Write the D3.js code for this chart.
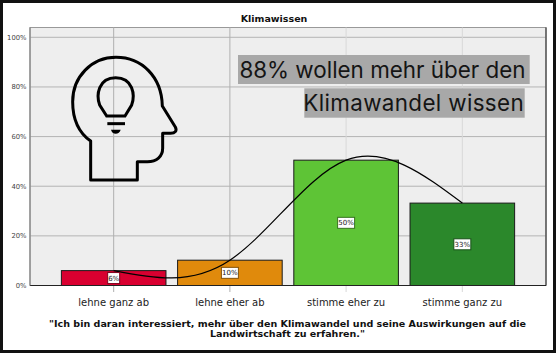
<!DOCTYPE html>
<html>
  <head>
    <meta charset="utf-8" />
    <style>
      html, body {
        margin: 0;
        padding: 0;
        background: white;
      }
      svg {
        display: block;
        font-family: "DejaVu Sans", sans-serif;
      }
    </style>
    <script src="https://cdn.jsdelivr.net/npm/d3@7"></script>
  </head>
  <body>
    <svg id="Chart"></svg>
    <script>
      const categories = ["lehne ganz ab", "lehne eher ab", "stimme eher zu", "stimme ganz zu"];
      const percentValues = [6, 10.2, 50.5, 33.2];
      const barLabels = ["6%", "10%", "50%", "33%"];
      const barColors = ["#d90030", "#e08a0c", "#5ec436", "#2b882b"];
      const yTicks = [0, 20, 40, 60, 80, 100];
      const calloutLines = ["88% wollen mehr über den", "Klimawandel wissen"];
      const captionLines = [
        "\"Ich bin daran interessiert, mehr über den Klimawandel und seine Auswirkungen auf die",
        "Landwirtschaft zu erfahren.\"",
      ];

      const width = 556;
      const height = 354;
      const margin = { top: 27.5, right: 10, bottom: 68.5, left: 30 };

      const svg = d3.select("#Chart").attr("width", width).attr("height", height);

      const xScale = d3
        .scaleBand()
        .domain(categories)
        .range([margin.left, width - margin.right])
        .paddingInner(0.1)
        .paddingOuter(0.27);

      const yScale = d3
        .scaleLinear()
        .domain([0, 100])
        .range([285.5, 37.3]);

      const xMid = (d) => xScale(d) + xScale.bandwidth() / 2;

      // outer frame
      svg.append("rect")
        .attr("x", 1.5).attr("y", 1.5)
        .attr("width", width - 3).attr("height", height - 4)
        .attr("fill", "white").attr("stroke", "#111").attr("stroke-width", 3);

      // plot background
      svg.append("rect")
        .attr("x", margin.left).attr("y", margin.top)
        .attr("width", width - margin.left - margin.right)
        .attr("height", 285.5 - margin.top)
        .attr("fill", "#eeeeee").attr("stroke", "#999");

      // grid
      svg.append("g").selectAll("line").data(yTicks).enter().append("line")
        .attr("x1", margin.left).attr("x2", width - margin.right)
        .attr("y1", (d) => yScale(d)).attr("y2", (d) => yScale(d))
        .attr("stroke", "#b4b4b4");
      svg.append("g").selectAll("line").data(categories).enter().append("line")
        .attr("x1", xMid).attr("x2", xMid)
        .attr("y1", margin.top).attr("y2", 292)
        .attr("stroke", (d, i) => (i < 2 ? "#b0b0b0" : "#d8d8d8"));

      // callout text with grey boxes
      const callout = svg.append("g").attr("font-family", "Inter, sans-serif").attr("font-size", 22.4).attr("fill", "#151515");
      callout.selectAll("rect").data([
        { x: 238, y: 55, w: 291.7, h: 29 },
        { x: 304.3, y: 88.3, w: 220.4, h: 29.4 },
      ]).enter().append("rect")
        .attr("x", (d) => d.x).attr("y", (d) => d.y)
        .attr("width", (d) => d.w).attr("height", (d) => d.h)
        .attr("fill", "#a8a8a8");
      callout.selectAll("text").data(calloutLines).enter().append("text")
        .attr("x", (d, i) => (i === 0 ? 525.5 : 524))
        .attr("y", (d, i) => 78 + i * 33.3)
        .attr("text-anchor", "end")
        .attr("letter-spacing", (d, i) => (i === 0 ? 0 : 0.35))
        .text((d) => d);

      // head icon
      const icon = svg.append("g")
        .attr("transform", "translate(60,45) scale(0.3333)")
        .attr("fill", "none").attr("stroke", "black").attr("stroke-width", 9);
      icon.append("path").attr("stroke-linejoin", "round").attr("d",
        "M92,405 L92,288 C55,262 38,222 38,170 C38,95 95,37 168,37 C245,37 305,95 307,183 L346,246 C352,258 345,265 332,265 L308,265 L308,310 C308,335 290,350 262,350 L232,350 L232,405 Z");
      icon.append("path").attr("d",
        "M140,213 L119,180 C108,150 115,98 167,98 C219,98 226,150 215,180 L195,213 Z");
      icon.append("line").attr("x1", 142).attr("x2", 195).attr("y1", 236).attr("y2", 236);
      icon.append("path").attr("stroke", "none").attr("fill", "black").attr("d", "M153,254 L182,254 C180,262 174,266 167,266 C160,266 155,262 153,254 Z");

      // bars
      svg.append("g").selectAll("rect").data(categories).enter().append("rect")
        .attr("x", (d) => xScale(d))
        .attr("y", (d, i) => yScale(percentValues[i]))
        .attr("width", xScale.bandwidth())
        .attr("height", (d, i) => yScale(0) - yScale(percentValues[i]))
        .attr("fill", (d, i) => barColors[i])
        .attr("stroke", "#1a1a1a");

      // axis lines, bottom and right are the dark ones
      svg.append("path")
        .attr("d", `M${margin.left},285.5 H${width - margin.right} V${margin.top}`)
        .attr("fill", "none")
        .attr("stroke", "#222");
      svg.append("line")
        .attr("x1", margin.left).attr("x2", margin.left)
        .attr("y1", margin.top).attr("y2", 285.5)
        .attr("stroke", "#777");

      // smooth line through the bar tops
      const line = d3.line()
        .x((d, i) => xMid(categories[i]))
        .y((d) => yScale(d))
        .curve(d3.curveNatural);
      svg.append("path")
        .attr("d", line(percentValues))
        .attr("fill", "none").attr("stroke", "black").attr("stroke-width", 1.2);

      // value labels
      const labels = svg.append("g").selectAll("g").data(categories).enter().append("g")
        .attr("transform", (d, i) => `translate(${xMid(d)},${(yScale(percentValues[i]) + yScale(0)) / 2})`);
      labels.append("rect")
        .attr("x", (d, i) => -(barLabels[i].length * 2.5 + 1))
        .attr("y", -5.5)
        .attr("width", (d, i) => 2 * (barLabels[i].length * 2.5 + 1))
        .attr("height", 11)
        .attr("fill", "white")
        .attr("stroke", (d, i) => d3.color(barColors[i]).darker(1.5));
      labels.append("text")
        .attr("text-anchor", "middle").attr("y", 2.5)
        .attr("font-size", 7).attr("fill", "#222")
        .text((d, i) => barLabels[i]);

      // y axis labels
      svg.append("g").selectAll("text").data(yTicks).enter().append("text")
        .attr("x", 26.5).attr("y", (d) => yScale(d) + 2.5)
        .attr("text-anchor", "end")
        .attr("font-size", 6.8).attr("fill", "#444")
        .text((d) => d + "%");

      // category labels
      svg.append("g").selectAll("text").data(categories).enter().append("text")
        .attr("x", xMid).attr("y", 306)
        .attr("text-anchor", "middle")
        .attr("font-size", 10).attr("fill", "#222")
        .text((d) => d);

      // title and caption
      svg.append("text")
        .attr("x", 274).attr("y", 22)
        .attr("text-anchor", "middle")
        .attr("font-size", 9.5).attr("font-weight", "bold").attr("fill", "#111")
        .text("Klimawissen");
      svg.append("g").selectAll("text").data(captionLines).enter().append("text")
        .attr("x", 287.5).attr("y", (d, i) => 326.5 + i * 10.5)
        .attr("text-anchor", "middle")
        .attr("font-size", 9.55).attr("font-weight", "bold").attr("fill", "#111")
        .text((d) => d);
    </script>
  </body>
</html>
